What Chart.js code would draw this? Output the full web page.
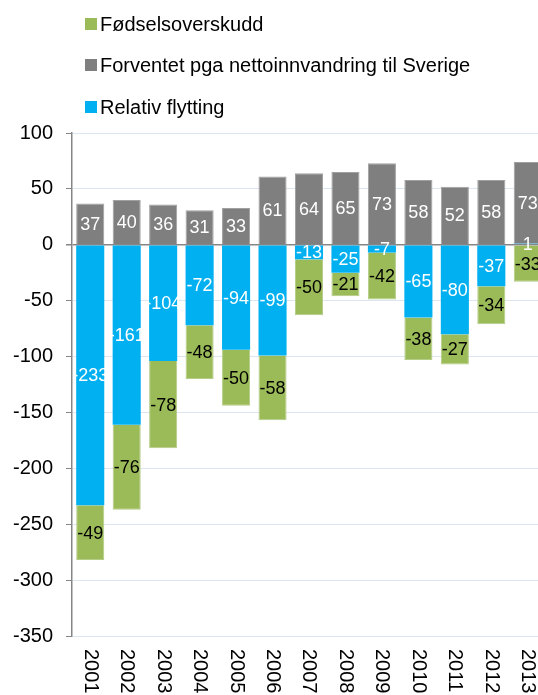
<!DOCTYPE html>
<html>
<head>
<meta charset="utf-8">
<script src="https://cdn.jsdelivr.net/npm/chart.js@4/dist/chart.umd.min.js"></script>
<style>
    body { margin: 0; width: 538px; height: 695px; overflow: hidden; background: #fff; font-family: Arial, "Liberation Sans", sans-serif; }
    #ramme { position: absolute; left: 0; top: 0; width: 560px; height: 695px; }
    #legende { position: absolute; left: 85px; top: 0; }
    .post { position: absolute; left: 0; white-space: nowrap; font-size: 20px; color: #000; height: 24px; line-height: 24px; }
    .boks { position: absolute; left: 0; top: 6px; width: 12px; height: 12px; }
    .tekst { position: absolute; left: 15px; top: 0; }
</style>
</head>
<body>
<div id="ramme">
    <canvas id="graf" width="560" height="695"></canvas>
    <div id="legende"></div>
</div>
<script>
// Data lest av figuren
const aar = ['2001', '2002', '2003', '2004', '2005', '2006', '2007', '2008', '2009', '2010', '2011', '2012', '2013'];
const relativFlytting = [-233, -161, -104, -72, -94, -99, -13, -25, -7, -65, -80, -37, 1];
const forventet = [37, 40, 36, 31, 33, 61, 64, 65, 73, 58, 52, 58, 73];
const fodselsoverskudd = [-49, -76, -78, -48, -50, -58, -50, -21, -42, -38, -27, -34, -33];

const Y_MIN = -350;
const Y_MAX = 100;
const Y_STEG = 50;

const BLAA = '#00b0f0';
const GRAA = '#7f7f7f';
const GROENN = '#9bbb59';

// Tall inne i stolpene
const etiketter = {
    id: 'etiketter',
    afterDatasetsDraw(chart) {
        const ctx = chart.ctx;
        ctx.save();
        ctx.font = '18px Arial, "Liberation Sans", sans-serif';
        ctx.textAlign = 'center';
        ctx.textBaseline = 'middle';
        chart.data.datasets.forEach((ds, i) => {
            chart.getDatasetMeta(i).data.forEach((stolpe, j) => {
                const p = stolpe.getProps(['x', 'y', 'base'], true);
                ctx.fillStyle = ds.tekstFarge;
                ctx.fillText(String(ds.data[j]), p.x, (p.y + p.base) / 2 + 1);
            });
        });
        ctx.restore();
    }
};

// Årstall, rotert 90 grader med klokka
const aarstall = {
    id: 'aarstall',
    afterDraw(chart) {
        const ctx = chart.ctx;
        const xSkala = chart.scales.x;
        ctx.save();
        ctx.font = '20px Arial, "Liberation Sans", sans-serif';
        ctx.fillStyle = '#000';
        ctx.textAlign = 'left';
        ctx.textBaseline = 'middle';
        chart.data.labels.forEach((etikett, i) => {
            const x = xSkala.getPixelForValue(i);
            ctx.save();
            ctx.translate(x, chart.chartArea.bottom + 13);
            ctx.rotate(Math.PI / 2);
            ctx.fillText(etikett, 0, 0);
            ctx.restore();
        });
        ctx.restore();
    }
};

const datasett = [
    { label: 'Relativ flytting', data: relativFlytting, backgroundColor: BLAA, tekstFarge: '#fff' },
    { label: 'Forventet pga nettoinnvandring til Sverige', data: forventet, backgroundColor: GRAA, borderColor: '#a0a0a0', borderWidth: 1, tekstFarge: '#fff' },
    { label: 'Fødselsoverskudd', data: fodselsoverskudd, backgroundColor: GROENN, borderColor: '#b4cc86', borderWidth: 1, tekstFarge: '#000' }
];

new Chart(document.getElementById('graf').getContext('2d'), {
    type: 'bar',
    data: { labels: aar, datasets: datasett },
    options: {
        responsive: false,
        animation: false,
        events: [],
        layout: { padding: { top: 133, right: 14, bottom: 0, left: 0 } },
        datasets: { bar: { categoryPercentage: 1, barPercentage: 0.77 } },
        plugins: {
            legend: { display: false },
            tooltip: { enabled: false }
        },
        scales: {
            x: {
                stacked: true,
                grid: { display: false },
                border: { display: false },
                ticks: { display: false },
                afterFit: (s) => { s.height = 59; }
            },
            y: {
                stacked: true,
                min: Y_MIN,
                max: Y_MAX,
                ticks: {
                    stepSize: Y_STEG,
                    color: '#000',
                    padding: 13,
                    font: { family: 'Arial, "Liberation Sans", sans-serif', size: 20 }
                },
                grid: {
                    color: (c) => c.tick && c.tick.value === 0 ? '#868686' : '#dce6f2',
                    lineWidth: (c) => c.tick && c.tick.value === 0 ? 1.5 : 1,
                    tickColor: '#868686',
                    tickLength: 6
                },
                border: { color: '#868686', width: 1.5 },
                afterFit: (s) => { s.width = 72; }
            }
        }
    },
    plugins: [etiketter, aarstall]
});

// Legende, loddrett som i originalen
const legendeRekker = [
    { tekst: 'Fødselsoverskudd', farge: GROENN, topp: 12 },
    { tekst: 'Forventet pga nettoinnvandring til Sverige', farge: GRAA, topp: 53 },
    { tekst: 'Relativ flytting', farge: BLAA, topp: 95 }
];
document.getElementById('legende').innerHTML = legendeRekker.map(r => `
    <div class="post" style="top:${r.topp}px">
        <span class="boks" style="background:${r.farge}"></span>
        <span class="tekst">${r.tekst}</span>
    </div>
`).join('');
</script>
</body>
</html>
